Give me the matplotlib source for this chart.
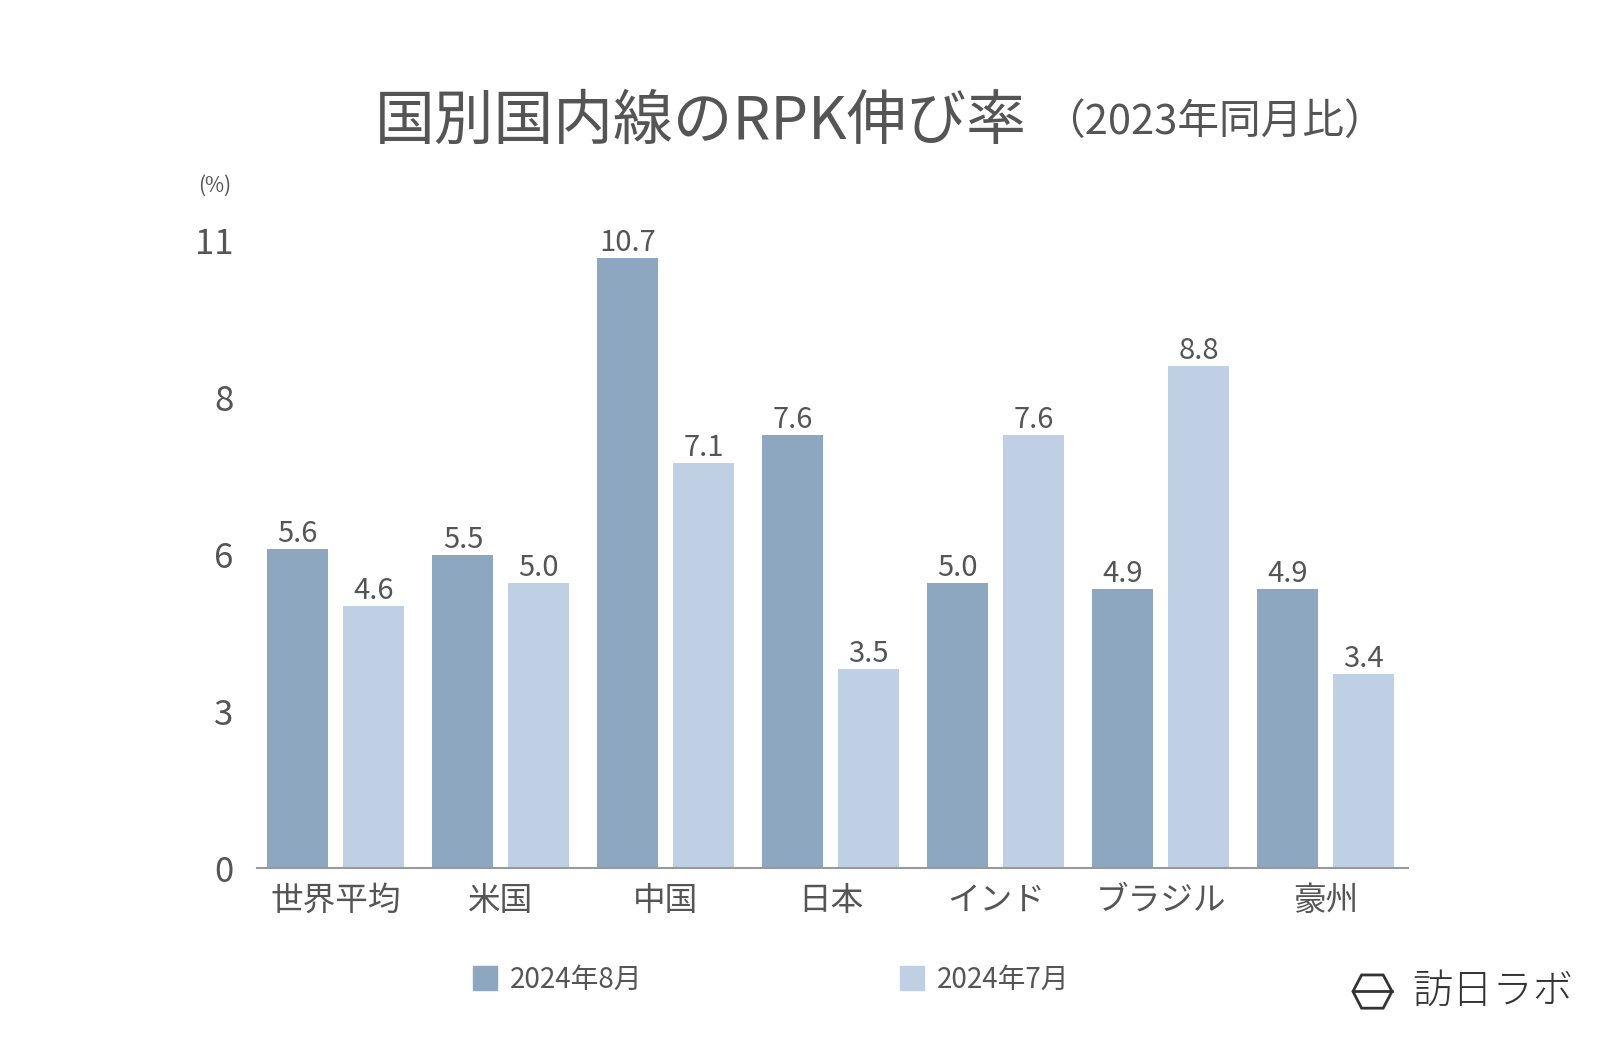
import numpy as np
import matplotlib.pyplot as plt
from matplotlib.patches import Polygon
from matplotlib.lines import Line2D

plt.rcParams['font.family'] = ['Noto Sans CJK JP', 'DejaVu Sans']

# データ
categories = ["世界平均", "米国", "中国", "日本", "インド", "ブラジル", "豪州"]
aug_2024 = [5.6, 5.5, 10.7, 7.6, 5.0, 4.9, 4.9]
jul_2024 = [4.6, 5.0, 7.1, 3.5, 7.6, 8.8, 3.4]
series_names = ["2024年8月", "2024年7月"]
ytick_vals = [0, 2.75, 5.5, 8.25, 11]
ytick_labels = ["0", "3", "6", "8", "11"]

col_aug = "#8da7c0"
col_jul = "#bfd0e4"
txt = "#555555"

fig = plt.figure(figsize=(16, 10.48), dpi=100)
ax = fig.add_axes([0.1607, 0.1714, 0.7194, 0.5988])

x = np.arange(len(categories))
w = 0.371
off = 0.229
b1 = ax.bar(x - off, aug_2024, w, color=col_aug, label=series_names[0])
b2 = ax.bar(x + off, jul_2024, w, color=col_jul, label=series_names[1])

for bars, vals in [(b1, aug_2024), (b2, jul_2024)]:
    for b, v in zip(bars, vals):
        ax.text(b.get_x() + b.get_width() / 2, v, f"{v:.1f}",
                ha="center", va="bottom", fontsize=21, color=txt, clip_on=False)

ax.set_xlim(-0.476, 6.5)
ax.set_ylim(0, 11)
ax.set_yticks(ytick_vals)
ax.set_yticklabels(ytick_labels)
ax.set_xticks(x)
ax.set_xticklabels(categories)
ax.tick_params(axis="y", length=0, pad=17, labelsize=25, labelcolor=txt)
ax.tick_params(axis="x", length=0, pad=12, labelsize=23.5, labelcolor=txt)
for s in ["top", "right", "left"]:
    ax.spines[s].set_visible(False)
ax.spines["bottom"].set_color("#999999")
ax.spines["bottom"].set_linewidth(1.5)

# タイトル
fig.text(0.234, 0.883, "国別国内線のRPK伸び率", fontsize=43, color=txt,
         ha="left", va="center")
fig.text(0.652, 0.883, "（2023年同月比）", fontsize=30, color=txt,
         ha="left", va="center")
fig.text(0.134, 0.823, "(%)", fontsize=15, color=txt, ha="center", va="center")

# 凡例
handles = [Line2D([], [], marker="s", linestyle="", markersize=17, color=col_aug),
           Line2D([], [], marker="s", linestyle="", markersize=17, color=col_jul)]
fig.legend(handles, series_names, loc="center", bbox_to_anchor=(0.4816, 0.065),
           ncol=2, frameon=False, fontsize=20, labelcolor=txt,
           columnspacing=9.2, handletextpad=0.4, handlelength=1)

# ロゴ
hexagon = Polygon([(0.8456, 0.054), (0.851, 0.0697), (0.8645, 0.0697), (0.870, 0.054),
                   (0.8645, 0.038), (0.851, 0.038)], closed=True, fill=False,
                  edgecolor="#333333", linewidth=2, transform=fig.transFigure)
fig.patches.append(hexagon)
fig.add_artist(Line2D([0.8456, 0.870], [0.054, 0.054], color="#333333",
                      linewidth=2, transform=fig.transFigure))
fig.text(0.8825, 0.0534, "訪日ラボ", fontsize=29, color="#333333",
         ha="left", va="center", fontweight="light")

fig.savefig("out.png", dpi=100)
